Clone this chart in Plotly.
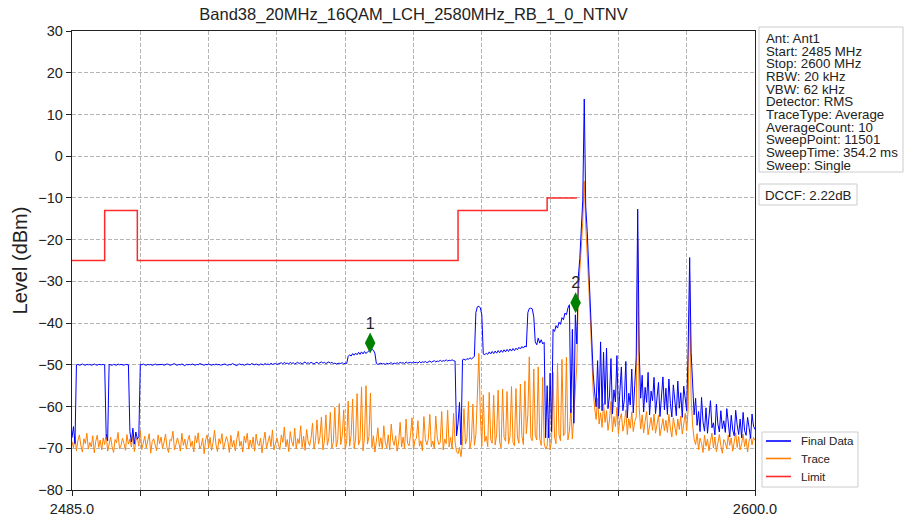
import numpy as np
import plotly.graph_objects as go

TITLE = "Band38_20MHz_16QAM_LCH_2580MHz_RB_1_0_NTNV"
START_MHZ = 2485.0
STOP_MHZ = 2600.0

# Final Data (blue), one value per 0.25 MHz from 2485 to 2600 MHz
final_level = [
    -67.5, -64.8, -68.9, -50.0, -49.9, -50.1, -50.0, -49.8, -50.0, -50.1, -49.9, -50.0, -49.9, -50.1, -50.0, -49.8, -50.0, -50.1, -49.9, -50.0,
    -50.0, -49.9, -50.0, -66.5, -68.2, -49.9, -50.0, -50.1, -49.9, -50.0, -50.1, -49.8, -50.0, -49.9, -50.0, -50.1, -49.9, -50.0, -50.0, -66.0,
    -68.5, -65.2, -69.0, -66.1, -67.8, -67.2, -49.9, -50.0, -49.8, -50.0, -50.1, -49.9, -50.0, -49.9, -50.1, -50.0, -49.8, -50.0, -50.0, -49.9,
    -50.0, -49.9, -50.1, -50.0, -49.8, -49.9, -50.1, -50.0, -49.9, -49.7, -50.0, -50.1, -49.9, -50.0, -49.8, -50.0, -50.2, -49.9, -50.0, -49.9,
    -50.0, -49.8, -50.0, -50.1, -49.9, -50.0, -49.7, -49.9, -50.0, -50.1, -49.9, -50.0, -49.8, -50.0, -50.1, -49.9, -50.0, -49.8, -50.0, -49.9,
    -50.1, -50.0, -49.9, -49.8, -50.0, -50.1, -49.9, -50.0, -49.7, -49.9, -50.0, -50.2, -49.9, -49.8, -50.0, -49.9, -50.1, -50.0, -49.8, -49.9,
    -50.0, -49.7, -49.9, -50.0, -49.8, -49.9, -50.1, -49.8, -49.9, -50.0, -49.7, -49.9, -49.8, -50.0, -49.6, -49.9, -49.8, -49.7, -49.9, -49.8,
    -49.7, -49.5, -49.8, -49.4, -49.7, -49.6, -49.8, -49.4, -49.7, -49.5, -49.8, -49.6, -49.4, -49.7, -49.5, -49.8, -49.6, -49.3, -49.7, -49.5,
    -49.7, -49.4, -49.6, -49.8, -49.5, -49.4, -49.7, -49.5, -49.3, -49.6, -49.4, -49.7, -49.5, -49.3, -49.6, -49.4, -49.7, -49.6, -49.8, -49.7,
    -49.6, -49.7, -49.5, -49.8, -49.6, -49.7, -48.0, -47.6, -47.9, -47.3, -47.7, -47.2, -47.6, -47.0, -47.5, -46.9, -47.4, -46.8, -47.3, -46.9,
    -46.6, -46.4, -46.3, -46.5, -47.2, -49.7, -49.9, -49.8, -49.6, -49.8, -49.7, -49.9, -49.6, -49.8, -49.7, -49.5, -49.8, -49.6, -49.7, -49.5,
    -49.7, -49.4, -49.6, -49.5, -49.7, -49.3, -49.6, -49.5, -49.4, -49.6, -49.3, -49.5, -49.4, -49.6, -49.2, -49.5, -49.3, -49.4, -49.2, -49.5,
    -49.3, -49.1, -49.4, -49.2, -49.0, -49.3, -49.1, -49.2, -48.9, -49.2, -49.0, -49.1, -48.8, -49.1, -48.9, -49.0, -48.8, -49.0, -49.1, -67.0,
    -64.0, -59.0, -69.2, -48.8, -48.6, -48.9, -48.5, -48.7, -48.3, -48.6, -48.2, -48.0, -37.5, -36.1, -36.0, -36.3, -38.0, -47.4, -47.6, -47.2,
    -47.5, -46.9, -47.4, -46.8, -47.3, -46.7, -47.2, -46.6, -47.1, -46.5, -47.0, -46.4, -46.9, -46.3, -46.8, -46.2, -46.7, -46.1, -46.6, -46.0,
    -46.4, -45.8, -46.2, -45.6, -46.0, -45.5, -45.7, -37.5, -36.5, -36.4, -36.6, -38.5, -44.5, -45.2, -43.6, -44.8, -44.0, -45.0, -44.6, -67.5,
    -55.0, -67.5, -52.0, -66.0, -41.5, -42.0, -40.6, -41.2, -39.8, -40.3, -38.7, -39.2, -37.6, -38.0, -36.4, -35.6, -61.5, -41.5, -64.0, -38.0,
    -45.0, -29.0, -24.5, -17.5, -10.5, 13.7, -12.0, -18.0, -27.5, -33.5, -44.0, -52.0, -56.5, -60.0, -49.0, -60.5, -44.5, -61.0, -47.0, -59.5,
    -46.0, -60.5, -57.5, -48.5, -61.8, -56.0, -58.9, -47.8, -62.3, -57.2, -50.5, -61.0, -58.4, -49.2, -62.7, -56.8, -59.6, -51.0, -61.5, -55.0,
    -48.0, -12.7, -46.5, -58.0, -52.5, -61.3, -55.4, -59.0, -51.8, -62.0, -56.3, -58.6, -53.0, -61.7, -57.1, -54.2, -62.4, -58.3, -52.9, -60.8,
    -55.6, -61.9, -53.4, -59.2, -62.5, -54.8, -58.0, -62.2, -53.9, -60.4, -56.7, -62.6, -55.1, -58.9, -61.0, -45.5, -24.3, -47.0, -55.0, -62.0,
    -58.0, -64.5, -61.2, -66.0, -57.8, -63.7, -65.9, -60.3, -66.4, -62.8, -58.6, -65.1, -63.9, -66.8, -59.4, -64.2, -66.1, -61.0, -65.3, -63.4,
    -66.2, -60.5, -64.8, -67.3, -62.1, -65.6, -67.0, -60.9, -64.4, -66.7, -63.0, -67.5, -61.4, -65.8, -66.9, -62.6, -65.0, -67.6, -61.8, -64.7,
    -65.5,
]

# Trace (orange), same frequency grid
trace_level = [
    -68.4, -69.9, -67.2, -70.6, -68.1, -66.8, -69.4, -70.9, -67.7, -68.9, -66.4, -70.2, -68.6, -69.7, -67.0, -71.1, -68.3, -66.9, -69.8, -68.0,
    -70.4, -67.5, -69.1, -66.6, -70.7, -68.5, -67.3, -69.6, -71.0, -67.9, -68.7, -66.2, -70.1, -69.3, -67.6, -68.8, -70.5, -66.7, -69.0, -67.8,
    -69.7, -66.9, -70.8, -68.2, -67.4, -69.5, -65.8, -70.3, -68.6, -67.1, -69.9, -68.0, -66.5, -71.2, -68.4, -67.7, -69.2, -70.6, -66.8, -68.9,
    -67.3, -70.0, -68.5, -66.6, -69.8, -71.0, -67.9, -68.2, -65.9, -70.4, -69.1, -67.5, -68.8, -70.7, -66.4, -69.3, -67.8, -70.2, -68.1, -66.9,
    -69.6, -68.3, -70.9, -67.0, -68.7, -66.3, -70.1, -69.4, -67.6, -71.3, -68.0, -66.8, -69.9, -67.4, -70.5, -68.6, -65.7, -69.2, -70.8, -67.7,
    -68.9, -66.5, -70.3, -69.0, -67.2, -68.4, -71.0, -66.9, -69.7, -68.1, -70.6, -67.8, -65.9, -69.5, -68.3, -70.9, -67.1, -68.7, -66.4, -70.2,
    -68.0, -69.8, -67.3, -70.7, -66.6, -68.9, -69.4, -67.6, -71.1, -68.2, -66.1, -70.0, -68.5, -67.0, -69.6, -65.6, -70.4, -68.8, -67.5, -69.1,
    -70.3, -66.8, -68.6, -64.9, -69.7, -67.9, -70.8, -66.0, -68.4, -69.5, -65.2, -70.1, -67.7, -68.9, -64.6, -69.8, -67.1, -70.5, -65.5, -68.3,
    -69.4, -67.6, -64.0, -70.2, -68.1, -63.2, -69.0, -67.3, -62.5, -70.4, -68.2, -62.0, -69.3, -67.5, -61.4, -70.0, -68.6, -60.2, -69.7, -67.9,
    -59.3, -69.1, -67.0, -60.8, -70.3, -68.4, -58.7, -69.5, -66.9, -58.2, -70.1, -67.8, -56.9, -69.2, -68.0, -55.3, -70.6, -67.4, -55.0, -69.0,
    -67.2, -56.8, -69.8, -67.0, -70.9, -68.3, -65.1, -69.6, -67.5, -70.2, -64.6, -68.7, -69.9, -66.8, -70.4, -64.2, -68.1, -69.3, -67.0, -70.7,
    -68.5, -63.8, -69.7, -67.3, -70.1, -63.0, -68.8, -69.4, -66.9, -62.7, -70.3, -68.0, -67.6, -63.4, -69.5, -68.2, -70.6, -62.4, -67.9, -69.2,
    -67.7, -61.9, -69.6, -68.3, -70.0, -62.3, -67.5, -69.1, -68.6, -61.2, -70.4, -67.8, -68.9, -60.9, -69.7, -67.4, -70.2, -61.6, -68.5, -70.8,
    -71.3, -69.8, -72.0, -68.4, -60.5, -69.0, -67.6, -58.8, -70.1, -68.0, -59.4, -69.3, -66.8, -57.5, -47.3, -62.0, -69.5, -57.2, -68.4, -67.1,
    -69.6, -56.6, -67.9, -68.8, -57.3, -69.2, -66.7, -56.1, -68.5, -69.9, -55.8, -67.4, -68.3, -56.4, -69.0, -67.2, -55.2, -68.6, -69.4, -55.7,
    -67.3, -68.8, -54.6, -67.0, -69.1, -53.9, -66.5, -62.0, -48.1, -67.4, -68.2, -51.0, -66.9, -68.0, -50.5, -67.6, -69.3, -53.0, -68.7, -70.2,
    -69.5, -62.8, -70.4, -68.1, -51.8, -67.3, -68.9, -49.6, -66.8, -68.2, -48.7, -67.0, -66.4, -48.2, -68.0, -65.9, -60.5, -67.8, -62.0, -58.5,
    -50.0, -33.0, -28.0, -22.0, -15.5, -6.0, -16.4, -22.5, -31.0, -38.4, -49.0, -56.2, -60.3, -63.1, -58.0, -64.2, -61.5, -65.0, -59.3, -63.8,
    -61.0, -65.7, -63.2, -58.8, -66.1, -62.4, -64.8, -60.2, -66.5, -63.0, -61.7, -65.9, -64.1, -60.8, -66.7, -62.9, -65.2, -61.3, -66.0, -63.6,
    -62.5, -20.0, -60.3, -65.4, -62.0, -66.3, -63.5, -61.2, -66.8, -64.0, -62.6, -65.7, -61.8, -66.4, -63.7, -62.1, -67.0, -64.4, -62.9, -65.8,
    -63.3, -66.2, -61.9, -65.1, -67.3, -62.7, -64.6, -66.9, -63.0, -65.5, -62.3, -66.6, -64.2, -61.6, -65.8, -60.5, -30.0, -58.0, -64.5, -67.8,
    -69.1, -66.5, -70.3, -67.6, -68.8, -71.0, -66.9, -69.5, -67.8, -70.6, -68.2, -66.4, -69.9, -67.3, -70.8, -68.5, -66.7, -69.4, -71.2, -67.9,
    -68.6, -70.1, -66.8, -69.3, -67.5, -70.7, -68.0, -66.3, -69.8, -67.2, -70.4, -68.9, -66.6, -69.6, -67.7, -70.9, -68.3, -66.9, -69.2, -67.4,
    -68.1,
]

# Limit mask: segment start frequencies (plus final stop) and levels
limit_edges = [2485.0, 2490.5, 2496.0, 2550.0, 2565.0, 2570.0]
limit_level = [-25, -13, -25, -13, -10, -10]

# Markers
marker_labels = ["1", "2"]
marker_freq = [2535.2, 2569.8]
marker_level = [-44.8, -35.1]

info_lines = [
    "Ant: Ant1", "Start: 2485 MHz", "Stop: 2600 MHz", "RBW: 20 kHz", "VBW: 62 kHz",
    "Detector: RMS", "TraceType: Average", "AverageCount: 10", "SweepPoint: 11501",
    "SweepTime: 354.2 ms", "Sweep: Single",
]
dccf_text = "DCCF: 2.22dB"
y_ticks = list(range(-80, 31, 10))

series_names = ["Final Data", "Trace", "Limit"]
series_colors = ["#0000ff", "#ff8000", "#ff2a2a"]

assert len(final_level) == len(trace_level)
freq = np.linspace(START_MHZ, STOP_MHZ, len(final_level))

W, H = 905, 518
ML, MR, MT, MB = 72, 150, 31, 28
PW, PH = W - ML - MR, H - MT - MB


def px_x(px):
    return (px - ML) / PW


def px_y(py):
    return (H - MB - py) / PH


FONT = "Liberation Sans, Arial, sans-serif"
INK = "#222222"

fig = go.Figure()
fig.add_trace(go.Scatter(x=freq, y=trace_level, mode="lines", name=series_names[1],
                         line=dict(color=series_colors[1], width=1), showlegend=False))
fig.add_trace(go.Scatter(x=freq, y=final_level, mode="lines", name=series_names[0],
                         line=dict(color=series_colors[0], width=1), showlegend=False))
fig.add_trace(go.Scatter(x=limit_edges, y=limit_level, mode="lines", name=series_names[2],
                         line=dict(color=series_colors[2], width=1.5, shape="hv"), showlegend=False))
fig.add_trace(go.Scatter(x=marker_freq, y=marker_level, mode="markers+text",
                         text=marker_labels, textposition="top center",
                         textfont=dict(size=16, color=INK, family=FONT),
                         marker=dict(symbol="diamond-tall", size=15, color="#008000"),
                         showlegend=False, hoverinfo="skip"))

xt = np.linspace(START_MHZ, STOP_MHZ, 11)
xtext = [f"{START_MHZ:.1f}"] + [""] * 9 + [f"{STOP_MHZ:.1f}"]

grid = dict(showgrid=True, gridcolor="#b5b5b5", gridwidth=0.8, griddash="4px,2px", zeroline=False)

fig.update_layout(
    width=W, height=H,
    margin=dict(l=ML, r=MR, t=MT, b=MB, autoexpand=False),
    paper_bgcolor="white", plot_bgcolor="white",
    font=dict(family=FONT, color=INK),
    title=dict(text=TITLE, x=0.5, xref="paper", xanchor="center",
               y=1 - 14 / H, yref="container", yanchor="middle",
               font=dict(size=16.5, family=FONT, color=INK)),
    xaxis=dict(range=[START_MHZ, STOP_MHZ], tickmode="array", tickvals=xt, ticktext=xtext,
               ticks="outside", ticklen=5, tickwidth=1, tickcolor=INK, automargin=False,
               showline=True, linecolor=INK, linewidth=1.3, mirror=True,
               tickfont=dict(size=14.5, family=FONT, color=INK), **grid),
    yaxis=dict(range=[-80, 30], tickmode="array", tickvals=y_ticks, automargin=False,
               ticks="outside", ticklen=5, tickwidth=1, tickcolor=INK,
               showline=True, linecolor=INK, linewidth=1.3, mirror=True,
               tickfont=dict(size=14.5, family=FONT, color=INK),
               title=dict(text="Level (dBm)", standoff=5, font=dict(size=20, family=FONT, color=INK)),
               **grid),
    showlegend=False,
)

shapes = [
    # info box
    dict(type="rect", xref="paper", yref="paper", x0=px_x(759), x1=px_x(903),
         y0=px_y(172), y1=px_y(27), line=dict(color="#cccccc", width=1), fillcolor="white"),
    # DCCF box
    dict(type="rect", xref="paper", yref="paper", x0=px_x(759), x1=px_x(857),
         y0=px_y(205), y1=px_y(184), line=dict(color="#cccccc", width=1), fillcolor="white"),
    # legend box
    dict(type="rect", xref="paper", yref="paper", x0=px_x(762), x1=px_x(858),
         y0=px_y(487), y1=px_y(432), line=dict(color="#cccccc", width=1), fillcolor="white"),
]
legend_rows = [441, 458.5, 476.5]
for name, color, py in zip(series_names, series_colors, legend_rows):
    shapes.append(dict(type="line", xref="paper", yref="paper", x0=px_x(766), x1=px_x(791),
                       y0=px_y(py), y1=px_y(py), line=dict(color=color, width=1.6)))
    fig.add_annotation(x=px_x(799), y=px_y(py), xref="paper", yref="paper",
                       xanchor="left", yanchor="middle", showarrow=False, text=name,
                       font=dict(size=11.5, family=FONT, color=INK))
fig.update_layout(shapes=shapes)

for k, line in enumerate(info_lines):
    fig.add_annotation(x=px_x(764), y=px_y(38.5 + 12.65 * k), xref="paper", yref="paper",
                       xanchor="left", yanchor="middle", showarrow=False, text=line,
                       font=dict(size=13.3, family=FONT, color=INK))
fig.add_annotation(x=px_x(763), y=px_y(195), xref="paper", yref="paper",
                   xanchor="left", yanchor="middle", showarrow=False, text=dccf_text,
                   font=dict(size=13.3, family=FONT, color=INK))

# Remove the default page margin so the figure sits at the window's top-left corner
fig.write_html("out.html", config={"displayModeBar": False},
               post_script="document.body.style.margin='0';document.body.style.overflow='hidden';")
